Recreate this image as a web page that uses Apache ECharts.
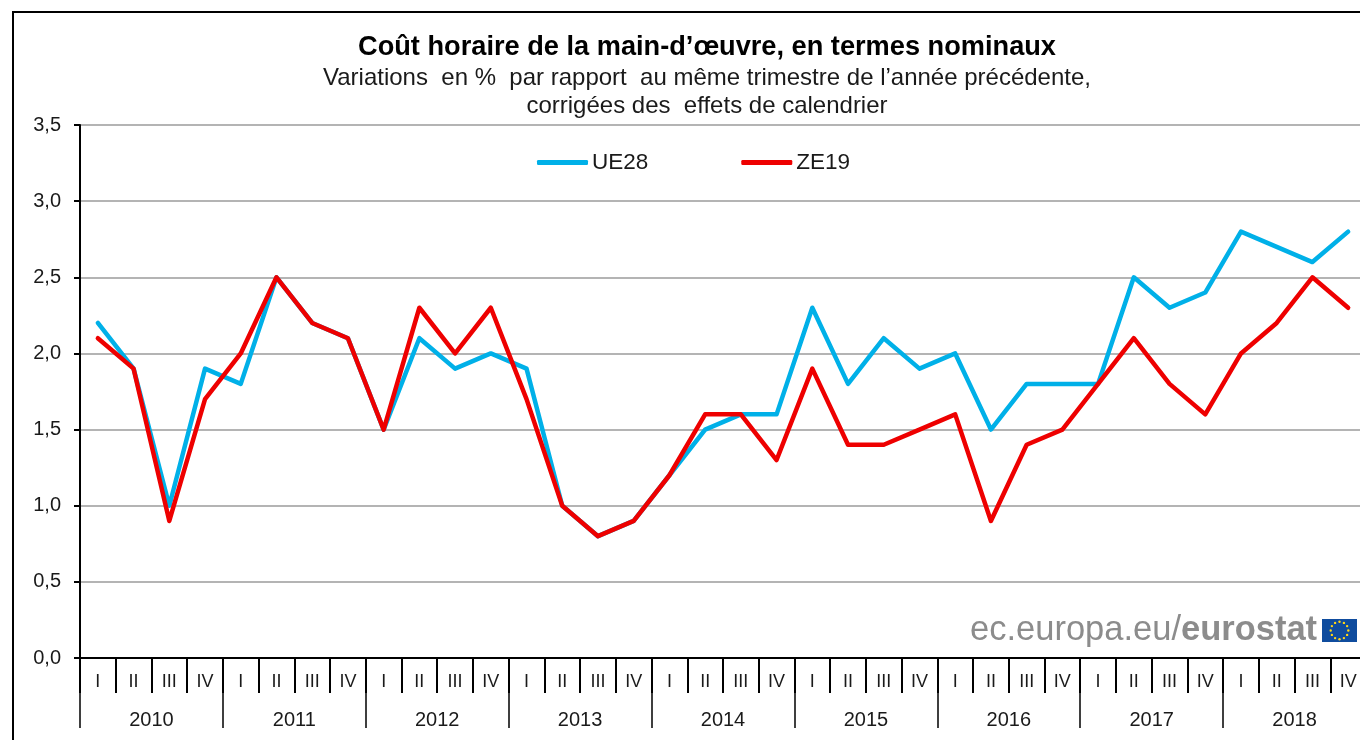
<!DOCTYPE html>
<html>
<head>
<meta charset="utf-8">
<title>Coût horaire de la main-d'œuvre</title>
<style>
  html, body { margin: 0; padding: 0; background: #fff; overflow: hidden; }
  #mychart { width: 1360px; height: 740px; }
</style>
<script src="https://cdn.jsdelivr.net/npm/echarts@6/dist/echarts.min.js"></script>
</head>
<body>
<div id="mychart"></div>
<script>
const years = ['2010', '2011', '2012', '2013', '2014', '2015', '2016', '2017', '2018'];
const quarters = ['I', 'II', 'III', 'IV'];
const ue28 = [
  2.2, 1.9, 1.0, 1.9,
  1.8, 2.5, 2.2, 2.1,
  1.5, 2.1, 1.9, 2.0,
  1.9, 1.0, 0.8, 0.9,
  1.2, 1.5, 1.6, 1.6,
  2.3, 1.8, 2.1, 1.9,
  2.0, 1.5, 1.8, 1.8,
  1.8, 2.5, 2.3, 2.4,
  2.8, 2.7, 2.6, 2.8,
];
const ze19 = [
  2.1, 1.9, 0.9, 1.7,
  2.0, 2.5, 2.2, 2.1,
  1.5, 2.3, 2.0, 2.3,
  1.7, 1.0, 0.8, 0.9,
  1.2, 1.6, 1.6, 1.3,
  1.9, 1.4, 1.4, 1.5,
  1.6, 0.9, 1.4, 1.5,
  1.8, 2.1, 1.8, 1.6,
  2.0, 2.2, 2.5, 2.3,
];

const FONT = '"Liberation Sans", Arial, sans-serif';
const colors = {
  ue: '#00b0e8',
  ze: '#ee0000',
  axis: '#000',
  grid: '#b4b4b4',
  text: '#1a1a1a',
  logo: '#8c8c8c',
  flag: '#0f4c9e',
  star: '#ffd617',
};

// one label per quarter, repeated for every year
const quarterLabels = years.flatMap(() => quarters);

// 12 stars of the flag in the logo
function flagStars(cx, cy, r) {
  const stars = [];
  for (let i = 0; i < 12; i++) {
    const a = (i / 12) * Math.PI * 2;
    stars.push({
      type: 'circle',
      shape: { cx: cx + Math.cos(a) * r, cy: cy + Math.sin(a) * r, r: 1.2 },
      style: { fill: colors.star },
      silent: true,
    });
  }
  return stars;
}

const option = {
  animation: false,
  backgroundColor: '#fff',
  textStyle: { fontFamily: FONT },
  title: {
    text: "Coût horaire de la main-d’œuvre, en termes nominaux",
    subtext: 'Variations  en %  par rapport  au même trimestre de l’année précédente,\ncorrigées des  effets de calendrier',
    left: 702,
    top: 27,
    textAlign: 'center',
    itemGap: 0,
    textStyle: { fontFamily: FONT, fontSize: 27.2, fontWeight: 'bold', color: '#000', lineHeight: 32 },
    subtextStyle: { fontFamily: FONT, fontSize: 24, color: colors.text, lineHeight: 28 },
  },
  legend: {
    left: 532,
    top: 146,
    itemWidth: 51,
    itemHeight: 5,
    itemGap: 93,
    icon: 'roundRect',
    textStyle: { fontFamily: FONT, fontSize: 22.5, color: colors.text, padding: [0, 0, 0, -1] },
    data: ['UE28', 'ZE19'],
  },
  grid: { left: 80, top: 125, width: 1286, height: 533, outerBoundsMode: 'none' },
  xAxis: [
    {
      type: 'category',
      data: quarterLabels,
      boundaryGap: true,
      axisLine: { lineStyle: { color: colors.axis, width: 2 } },
      axisTick: { show: true, length: 35, interval: 0, lineStyle: { color: colors.axis, width: 2 } },
      axisLabel: { interval: 0, margin: 15, fontSize: 18, fontFamily: FONT, color: colors.text },
    },
    {
      type: 'category',
      position: 'bottom',
      data: years,
      boundaryGap: true,
      axisLine: { show: false },
      axisTick: { show: true, length: 70, interval: 0, lineStyle: { color: colors.axis, width: 1.5 } },
      axisLabel: { interval: 0, margin: 52, fontSize: 20, fontFamily: FONT, color: colors.text },
    },
  ],
  yAxis: {
    type: 'value',
    min: 0,
    max: 3.5,
    interval: 0.5,
    axisLine: { show: true, lineStyle: { color: colors.axis, width: 2 } },
    axisTick: { show: true, length: 6, lineStyle: { color: colors.axis, width: 2 } },
    axisLabel: {
      margin: 19,
      fontSize: 20,
      fontFamily: FONT,
      color: colors.text,
      padding: [2, 0, 0, 0],
      formatter: (v) => v.toFixed(1).replace('.', ','),
    },
    splitLine: { lineStyle: { color: colors.grid, width: 2 } },
  },
  series: [
    {
      name: 'UE28',
      type: 'line',
      data: ue28,
      showSymbol: false,
      itemStyle: { color: colors.ue },
      lineStyle: { color: colors.ue, width: 4.5, cap: 'round', join: 'round' },
      z: 3,
    },
    {
      name: 'ZE19',
      type: 'line',
      data: ze19,
      showSymbol: false,
      itemStyle: { color: colors.ze },
      lineStyle: { color: colors.ze, width: 4.5, cap: 'round', join: 'round' },
      z: 4,
    },
  ],
  graphic: [
    {
      type: 'rect',
      shape: { x: 13, y: 12, width: 1400, height: 800 },
      style: { fill: 'none', stroke: colors.axis, lineWidth: 2 },
      silent: true,
    },
    {
      type: 'text',
      x: 970,
      y: 613,
      style: {
        text: '{a|ec.europa.eu/}{b|eurostat}',
        rich: {
          a: { fontFamily: FONT, fontSize: 34.5, fill: colors.logo },
          b: { fontFamily: FONT, fontSize: 34.5, fontWeight: 'bold', fill: colors.logo },
        },
      },
      silent: true,
    },
    {
      type: 'rect',
      shape: { x: 1322, y: 619, width: 35, height: 23 },
      style: { fill: colors.flag },
      silent: true,
    },
    ...flagStars(1339.5, 630.5, 8.8),
  ],
};

const myChart = echarts.init(document.getElementById('mychart'));
myChart.setOption(option);
</script>
</body>
</html>
